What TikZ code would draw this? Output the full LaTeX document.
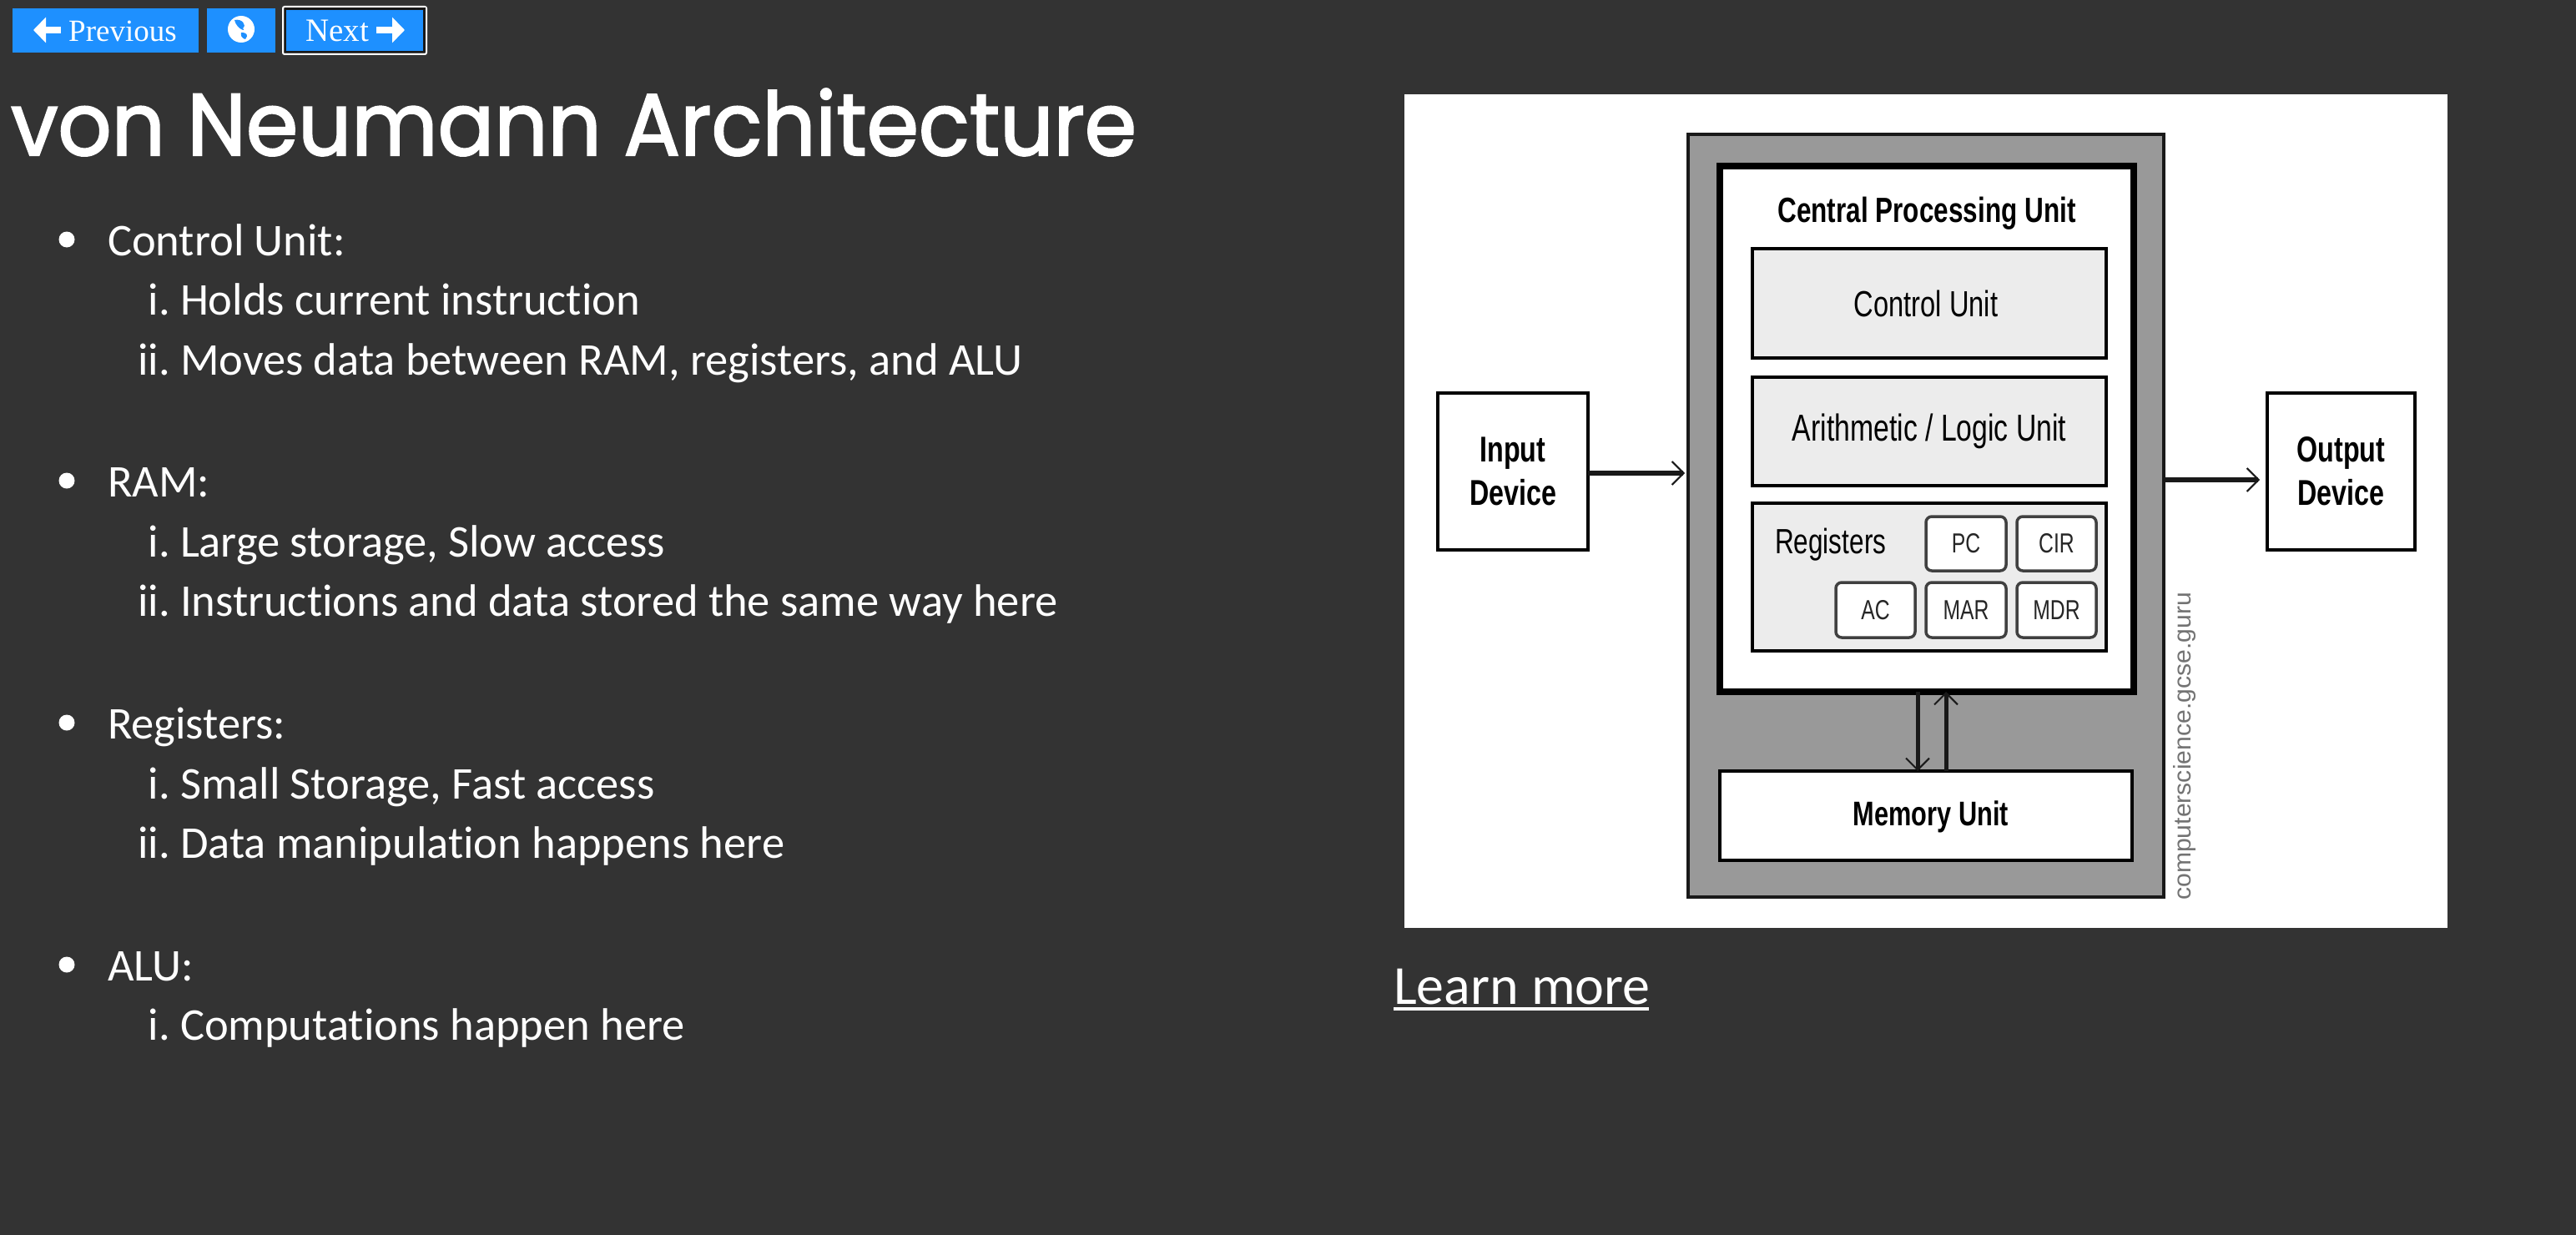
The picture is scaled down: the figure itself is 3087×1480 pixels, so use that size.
\documentclass[tikz,border=0pt]{standalone}
\usepackage{fontspec}
\usetikzlibrary{arrows.meta,calc}
\setmainfont[Ligatures=NoCommon]{Carlito}
\newfontfamily\titlef[FakeStretch=0.955,FakeBold=2]{Poppins}
\newfontfamily\btnf{Liberation Serif}
\newfontfamily\dgm[FakeStretch=0.75]{Liberation Sans}
\newfontfamily\wmf[FakeStretch=1.04]{Liberation Sans}
\definecolor{bgc}{HTML}{333333}
\definecolor{btn}{HTML}{1E90FF}
\definecolor{midg}{HTML}{999999}
\definecolor{lightg}{HTML}{ECECEC}
\newcommand{\pbox}[7]{%
  \pgfmathsetmacro{\pcx}{(#2+#4)/2}\pgfmathsetmacro{\pcy}{(#3+#5)/2}%
  \pgfmathsetmacro{\pw}{#4-#2}\pgfmathsetmacro{\ph}{#5-#3}%
  \node[#6,minimum width=\pw pt,minimum height=\ph pt] (#1) at (\pcx,\pcy) {#7};}
\tikzset{
  x=1pt,y=-1pt,
  allbox/.style={rectangle,inner sep=0pt,outer sep=0pt,align=center},
  btnbox/.style={allbox,fill=btn},
  whitebox/.style={allbox,draw=black,fill=white,line width=3.5pt},
  unitbox/.style={allbox,draw=black,fill=lightg,line width=3.5pt},
  chip/.style={allbox,draw=black!75,fill=white,line width=3.5pt,rounded corners=7pt,text=black!85},
  body/.style={anchor=base west,inner sep=0pt,outer sep=0pt,text=white,font=\fontsize{54.5}{54.5}\selectfont},
  marker/.style={anchor=base east,inner sep=0pt,outer sep=0pt,text=white,font=\fontsize{54.5}{54.5}\selectfont},
  bul/.style={circle,fill=white,inner sep=0pt,minimum size=19pt},
  arr/.style={draw=black!90,line width=6pt,-{Straight Barb[length=14pt,width=28pt,line width=2pt]}},
  whitearrow/.style={draw=white,line width=8pt,line cap=butt,-{Triangle[length=15pt,width=30pt]}},
}
\begin{document}
\begin{tikzpicture}
\useasboundingbox (0,0) rectangle (3087,1480);
\fill[bgc] (0,0) rectangle (3087,1480);
% buttons
\pbox{prev}{15}{10}{238}{63}{btnbox}{}
\pbox{globe}{248}{10}{330}{63}{btnbox}{}
\draw[white,line width=2pt,rounded corners=2pt] (339,8) rectangle (511,65);
\draw[black!90,line width=3pt] (342,11) rectangle (508,62);
\pbox{next}{343}{12}{507}{61}{btnbox}{}
\node[inner sep=0,text=white,font=\btnf\fontsize{37}{37}\selectfont,anchor=base west] (prevt) at (82,49) {Previous};
\node[inner sep=0,text=white,font=\btnf\fontsize{39}{39}\selectfont,anchor=base west] (nextt) at (366,49) {Next};
\coordinate (pa1) at (73,36); \coordinate (pa0) at (40,36);
\draw[whitearrow] (pa1) -- (pa0);
\coordinate (na0) at (451,36); \coordinate (na1) at (485,36);
\draw[whitearrow] (na0) -- (na1);
\node[circle,fill=white,inner sep=0,minimum width=32pt,minimum height=32pt] (gl) at (289,35) {};
\fill[btn] (281,24) .. controls (290,22) and (296,30) .. (291,34) .. controls (296,38) and (284,36) .. (281,24);
\fill[btn] (289,39) .. controls (296,39) and (298,42) .. (294,47) .. controls (290,46) and (288,43) .. (289,39);
% title
\node[anchor=base west,inner sep=0,text=white,font=\titlef\fontsize{105}{105}\selectfont] (title) at (13,186) {von Neumann Architecture};
% list
\foreach \n/\y/\t in {b1/306/{Control Unit:},b2/595/{RAM:},b3/885/{Registers:},b4/1175/{ALU:}}{
  \node[body] (\n) at (129,\y) {\t};
  \node[bul] (\n d) at (80,\y-19) {};
}
\foreach \n/\y/\m/\t in {
  a1/377/i./{Holds current instruction},
  a2/449/ii./{Moves data between RAM, registers, and ALU},
  c1/667/i./{Large storage, Slow access},
  c2/738/ii./{Instructions and data stored the same way here},
  d1/957/i./{Small Storage, Fast access},
  d2/1028/ii./{Data manipulation happens here},
  e1/1246/i./{Computations happen here}}{
  \node[body] (\n) at (216,\y) {\t};
  \node[marker] (\n m) at (204,\y) {\m};
}
% image
\pbox{img}{1683}{113}{2933}{1112}{allbox,fill=white}{}
\pbox{outer}{2023}{161}{2593}{1075}{allbox,draw=black!90,fill=midg,line width=4pt}{}
\pbox{cpu}{2061}{199}{2557}{829}{allbox,draw=black,fill=white,line width=7.5pt}{}
\node[font=\dgm\bfseries\fontsize{42}{42}\selectfont,inner sep=0] (cput) at (2309,256) {Central Processing Unit};
\pbox{cu}{2100}{298}{2524}{429}{unitbox}{}
\node[font=\dgm\fontsize{43.5}{43.5}\selectfont,inner sep=0] (cut) at (2308,364) {Control Unit};
\pbox{alu}{2100}{452}{2524}{582}{unitbox,font=\dgm\fontsize{45}{45}\selectfont}{Arithmetic / Logic Unit}
\pbox{reg}{2100}{603}{2524}{780}{unitbox}{}
\node[anchor=base west,inner sep=0,font=\dgm\fontsize{42}{42}\selectfont] (regt) at (2127,663) {Registers};
\pbox{pc}{2308}{619}{2404}{684}{chip,font=\dgm\fontsize{33}{33}\selectfont}{PC}
\pbox{cir}{2417}{619}{2512}{684}{chip,font=\dgm\fontsize{33}{33}\selectfont}{CIR}
\pbox{ac}{2200}{698}{2295}{764}{chip,font=\dgm\fontsize{33}{33}\selectfont}{AC}
\pbox{mar}{2308}{698}{2404}{764}{chip,font=\dgm\fontsize{33}{33}\selectfont}{MAR}
\pbox{mdr}{2417}{698}{2512}{764}{chip,font=\dgm\fontsize{33}{33}\selectfont}{MDR}
\pbox{mem}{2061}{924}{2555}{1031}{whitebox}{}
\node[font=\dgm\bfseries\fontsize{41}{41}\selectfont,inner sep=0] (memt) at (2314,979) {Memory Unit};
\pbox{input}{1723}{471}{1903}{659}{whitebox,font=\dgm\bfseries\fontsize{43}{50}\selectfont}{Input\\[2pt]Device}
\pbox{output}{2717}{471}{2894}{659}{whitebox,font=\dgm\bfseries\fontsize{43}{50}\selectfont}{Output\\[2pt]Device}
\coordinate (ia) at (1905,567); \coordinate (oa) at (2595,575);
\draw[arr,shorten >=4pt] (input.east |- ia) -- (outer.west |- ia);
\draw[arr,shorten >=9pt] (outer.east |- oa) -- (output.west |- oa);
\coordinate (dn0) at (2298,833); \coordinate (up0) at (2332,922);
\draw[arr,line width=5pt] (cpu.south -| dn0) -- (mem.north -| dn0);
\draw[arr,line width=5pt] (mem.north -| up0) -- (cpu.south -| up0);
\node[rotate=90,anchor=west,inner sep=0,text=black!55,font=\wmf\fontsize{29}{29}\selectfont] (wm) at (2618,1079) {computerscience.gcse.guru};
% link
\node[anchor=base west,inner sep=0,text=white,font=\fontsize{66}{66}\selectfont] (lm) at (1670,1203) {Learn more};
\coordinate (ul0) at (1670,1209); \coordinate (ul1) at (1976,1209);
\draw[white,line width=3.5pt] (ul0) -- (ul1);
\end{tikzpicture}
\end{document}
